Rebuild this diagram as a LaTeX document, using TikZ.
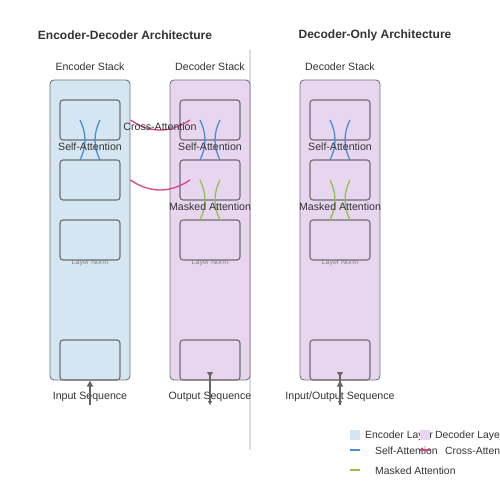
\documentclass[tikz,border=0pt]{standalone}
\usepackage{fontspec}
\setmainfont{Liberation Sans}
\usetikzlibrary{arrows.meta}
\definecolor{encfill}{HTML}{D4E6F1}
\definecolor{decfill}{HTML}{E8D5F0}
\definecolor{boxline}{HTML}{777777}
\definecolor{innerline}{HTML}{6E6E6E}
\definecolor{selfc}{HTML}{4A8FD4}
\definecolor{crossc}{HTML}{D6458A}
\definecolor{maskc}{HTML}{8DC44A}
\definecolor{txt}{HTML}{333333}
\definecolor{sepc}{HTML}{DDDDDD}
\definecolor{arrc}{HTML}{666666}
\tikzset{
  stackbox/.style={draw=boxline, line width=0.9pt, rounded corners=4pt, minimum width=80pt, minimum height=300pt, inner sep=0pt},
  layerbox/.style={draw=innerline, line width=1.1pt, rounded corners=3pt, minimum width=60pt, minimum height=40pt, inner sep=0pt},
  lbl/.style={text=txt, font=\fontsize{10.6}{12}\selectfont, inner sep=0pt},
  title/.style={text=txt, font=\fontsize{12}{14}\selectfont\bfseries, inner sep=0pt},
  normlbl/.style={text=gray, font=\fontsize{7}{8}\selectfont, inner sep=0pt},
  selfcurve/.style={draw=selfc, line width=1.3pt},
  crosscurve/.style={draw=crossc, line width=1.3pt},
  maskcurve/.style={draw=maskc, line width=1.3pt},
  seqarrow/.style={draw=arrc, line width=1.4pt},
  legtxt/.style={text=txt, font=\fontsize{10.4}{12}\selectfont, inner sep=0pt, anchor=west},
}
\begin{document}
\begin{tikzpicture}[x=1pt,y=-1pt]
\useasboundingbox (0,0) rectangle (500,500);
\clip (0,0) rectangle (500,500);
\fill[white] (0,0) rectangle (500,500);

% titles
\node[title] (t1) at (125,35.5) {Encoder-Decoder Architecture};
\node[title] (t2) at (375,35.5) {Decoder-Only Architecture};

% separator
\coordinate (s1) at (250,50);
\coordinate (s2) at (250,450);
\draw[sepc, line width=1.2pt] (s1) -- (s2);

% stack labels
\node[lbl] (el) at (90,66.5) {Encoder Stack};
\node[lbl] (dl) at (210,66.5) {Decoder Stack};
\node[lbl] (ol) at (340,66.5) {Decoder Stack};

% stacks
\node[stackbox, fill=encfill] (enc) at (90,230) {};
\node[stackbox, fill=decfill] (dec) at (210,230) {};
\node[stackbox, fill=decfill] (dol) at (340,230) {};

% layers
\foreach \s/\x in {e/90, d/210, o/340}{
  \node[layerbox] (\s1) at (\x,120) {};
  \node[layerbox] (\s2) at (\x,180) {};
  \node[layerbox] (\s3) at (\x,240) {};
  \node[layerbox] (\s4) at (\x,360) {};
  \node[normlbl] (\s n) at (\x,262.5) {Layer Norm};
}

% self-attention curves
\foreach \x in {90,210,340}{
  \draw[selfcurve] (\x-10,120) .. controls (\x-3.33,133.33) and (\x-3.33,146.67) .. (\x-10,160);
  \draw[selfcurve] (\x+10,120) .. controls (\x+3.33,133.33) and (\x+3.33,146.67) .. (\x+10,160);
}
% masked attention curves
\foreach \x in {210,340}{
  \draw[maskcurve] (\x-10,180) .. controls (\x-3.33,193.33) and (\x-3.33,206.67) .. (\x-10,220);
  \draw[maskcurve] (\x+10,180) .. controls (\x+3.33,193.33) and (\x+3.33,206.67) .. (\x+10,220);
}
% cross-attention curves
\coordinate (c1) at (190,120);
\coordinate (c2) at (190,180);
\draw[crosscurve] (enc.east |- e1) .. controls (150,133.33) and (170,133.33) .. (c1);
\draw[crosscurve] (enc.east |- e2) .. controls (150,193.33) and (170,193.33) .. (c2);

% attention labels
\node[lbl] (sa1) at (90,146.5) {Self-Attention};
\node[lbl] (sa2) at (210,146.5) {Self-Attention};
\node[lbl] (sa3) at (340,146.5) {Self-Attention};
\node[lbl] (ca) at (160,126.5) {Cross-Attention};
\node[lbl] (ma1) at (210,206.5) {Masked Attention};
\node[lbl] (ma2) at (340,206.5) {Masked Attention};

% sequence labels
\node[lbl] (in) at (90,396.5) {Input Sequence};
\node[lbl] (out) at (210,396.5) {Output Sequence};
\node[lbl] (io) at (340,396.5) {Input/Output Sequence};

% arrows
\coordinate (ib) at (90,405);
\coordinate (ob) at (210,405);
\coordinate (ot) at (210,372);
\coordinate (iob) at (340,405);
\coordinate (iot) at (340,372);
\draw[seqarrow, -{Triangle[length=6pt,width=6pt]}] (ib) -- (e4.south);
\draw[seqarrow, {Triangle[reversed,length=5pt,width=6pt]}-{Triangle[length=4pt,width=4pt]}] (ot) -- (ob);
\draw[seqarrow, -{Triangle[length=6pt,width=6pt]}] (iob) -- (o4.south);
\draw[seqarrow, {Triangle[reversed,length=5pt,width=6pt]}-{Triangle[length=4pt,width=4pt]}] (iot) -- (iob);

% legend
\node[fill=encfill, minimum size=10pt, inner sep=0pt] (lg1) at (355,435) {};
\node[legtxt] (lt1) at (365,436) {Encoder Layer};
\node[fill=decfill, minimum size=10pt, inner sep=0pt] (lg2) at (425,435) {};
\node[legtxt] (lt2) at (435,436) {Decoder Layer};
\coordinate (la1) at (350,450); \coordinate (la2) at (360,450);
\draw[selfc, line width=1.5pt] (la1) -- (la2);
\node[legtxt] (lt3) at (375,451) {Self-Attention};
\coordinate (lb1) at (420,450); \coordinate (lb2) at (430,450);
\draw[crossc, line width=1.5pt] (lb1) -- (lb2);
\node[legtxt] (lt4) at (445,451) {Cross-Attention};
\coordinate (lc1) at (350,470); \coordinate (lc2) at (360,470);
\draw[maskc, line width=1.5pt] (lc1) -- (lc2);
\node[legtxt] (lt5) at (375,470.5) {Masked Attention};
\end{tikzpicture}
\end{document}
